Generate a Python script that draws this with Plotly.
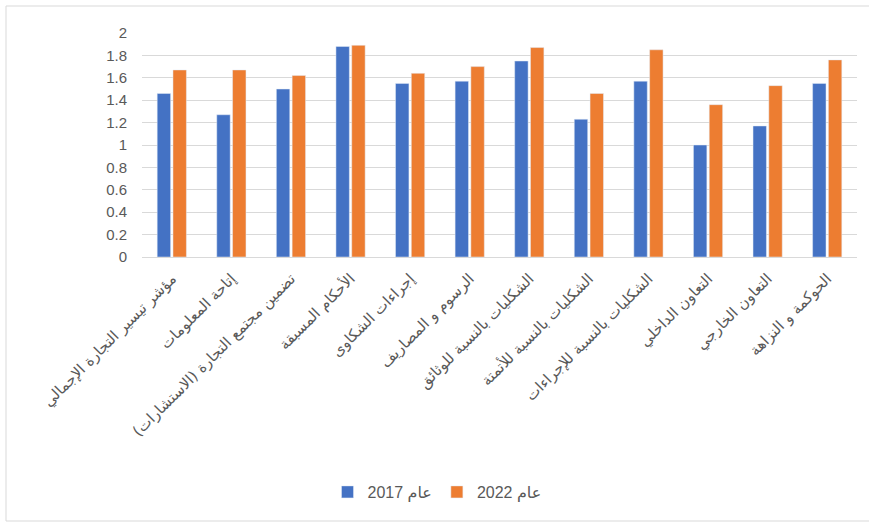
import plotly.graph_objects as go

categories = [
    "مؤشر تيسير التجارة الإجمالي",
    "إتاحة المعلومات",
    "تضمين مجتمع التجارة (الاستشارات)",
    "الأحكام المسبقة",
    "إجراءات الشكاوى",
    "الرسوم و المصاريف",
    "الشكليات بالنسبة للوثائق",
    "الشكليات بالنسبة للأتمتة",
    "الشكليات بالنسبة للإجراءات",
    "التعاون الداخلي",
    "التعاون الخارجي",
    "الحوكمة و النزاهة",
]
values_2017 = [1.46, 1.27, 1.50, 1.88, 1.55, 1.57, 1.75, 1.23, 1.57, 1.00, 1.17, 1.55]
values_2022 = [1.67, 1.67, 1.62, 1.89, 1.64, 1.70, 1.87, 1.46, 1.85, 1.36, 1.53, 1.76]
series_names = ["2017 عام", "2022 عام"]
y_ticks = [0, 0.2, 0.4, 0.6, 0.8, 1, 1.2, 1.4, 1.6, 1.8, 2]
y_tick_text = ["0", "0.2", "0.4", "0.6", "0.8", "1", "1.2", "1.4", "1.6", "1.8", "2"]

fig = go.Figure()
fig.add_trace(go.Bar(x=categories, y=values_2017, name=series_names[0], marker_color="#4472C4"))
fig.add_trace(go.Bar(x=categories, y=values_2022, name=series_names[1], marker_color="#ED7D31"))

L, R, T, B = 142, 12, 33, 269
W, H = 869, 526
pw, ph = W - L - R, H - T - B

def px(x):
    return (x - L) / pw

def py(y):
    return (H - B - y) / ph

border = dict(color="#d9d9d9", width=1)
fig.add_shape(type="line", xref="paper", yref="paper", x0=px(6), x1=px(869), y0=py(6), y1=py(6), line=border)
fig.add_shape(type="line", xref="paper", yref="paper", x0=px(6), x1=px(6), y0=py(6), y1=py(521), line=border)
fig.add_shape(type="line", xref="paper", yref="paper", x0=px(6), x1=px(869), y0=py(521), y1=py(521), line=border)

fig.update_layout(
    width=W, height=H,
    margin=dict(l=L, r=R, t=T, b=B),
    paper_bgcolor="white", plot_bgcolor="white",
    barmode="group", bargap=0.47, bargroupgap=0.15,
    font=dict(family="Liberation Sans, Arial, DejaVu Sans", color="#595959"),
    legend=dict(orientation="h", x=px(437), xanchor="center", y=py(492), yanchor="middle",
                font=dict(size=16, color="#595959"), itemwidth=30, traceorder="normal"),
    xaxis=dict(tickangle=-45, tickfont=dict(size=15, color="#595959", family="DejaVu Sans, Liberation Sans"),
               showline=True, linecolor="#d9d9d9", linewidth=1, ticks="", ticklabelstandoff=6),
    yaxis=dict(range=[0, 2], tickvals=y_ticks, ticktext=y_tick_text,
               tickfont=dict(size=15, color="#595959"),
               gridcolor="#d9d9d9", gridwidth=1, zeroline=False,
               showline=False, ticklabelstandoff=14),
)

fig.write_html("out.html")
